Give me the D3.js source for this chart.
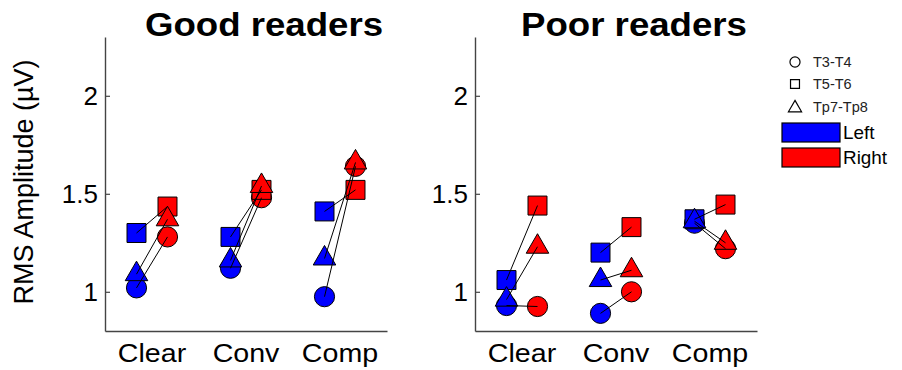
<!DOCTYPE html>
<html>
<head>
<meta charset="utf-8">
<script src="https://cdn.jsdelivr.net/npm/d3@7"></script>
<style>
  html, body { margin: 0; padding: 0; background: #fff; }
  svg { display: block; font-family: "Liberation Sans", Arial, sans-serif; }
</style>
</head>
<body>
<svg id="chart" width="902" height="370"></svg>
<script>
// Conditions along the x axis, electrode pairs, hemispheres
const categories = ["Clear", "Conv", "Comp"];
const electrodes = ["T3-T4", "T5-T6", "Tp7-Tp8"];
const hemispheres = ["Left", "Right"];
const yTicks = [1, 1.5, 2];

// RMS amplitude (µV), one row per electrode, one value per condition
const goodLeft = [
  [1.02, 1.12, 0.975],  // T3-T4
  [1.30, 1.28, 1.41],   // T5-T6
  [1.09, 1.16, 1.17]    // Tp7-Tp8
];
const goodRight = [
  [1.28, 1.48, 1.64],
  [1.435, 1.52, 1.52],
  [1.37, 1.54, 1.66]
];
const poorLeft = [
  [0.93, 0.89, 1.35],
  [1.06, 1.20, 1.37],
  [0.96, 1.06, 1.36]
];
const poorRight = [
  [0.925, 1.00, 1.22],
  [1.44, 1.33, 1.445],
  [1.23, 1.11, 1.25]
];

const panels = [
  { title: "Good readers", left: goodLeft, right: goodRight, x0: 105, showYLabel: true },
  { title: "Poor readers", left: poorLeft, right: poorRight, x0: 475, showYLabel: false }
];

const colors = { Left: "#0000ff", Right: "#ff0000" };
const symbolTypes = { "T3-T4": d3.symbolCircle, "T5-T6": d3.symbolSquare, "Tp7-Tp8": d3.symbolTriangle };
const symbolSizes = { "T3-T4": 320, "T5-T6": 360, "Tp7-Tp8": 220 };
const legendSizes = { "T3-T4": 80, "T5-T6": 80, "Tp7-Tp8": 75 };

const svg = d3.select("#chart");
const panelWidth = 282;
const y = d3.scaleLinear().domain([0.8, 2.3]).range([331, 37]);
const side = d3.scalePoint().domain(hemispheres).range([-15.5, 15.5]);

panels.forEach(p => {
  const x = d3.scaleBand().domain(categories).range([p.x0, p.x0 + panelWidth]).padding(0);
  const cx = c => x(c) + x.bandwidth() / 2;
  const g = svg.append("g");

  // y axis with inward ticks
  const yAxis = g.append("g")
    .attr("transform", `translate(${p.x0},0)`)
    .call(d3.axisLeft(y).tickValues(yTicks).tickSize(-5).tickSizeOuter(0).tickPadding(7)
      .tickFormat(d3.format("")));
  yAxis.selectAll("text").attr("font-size", 26).attr("fill", "#000")
    .attr("font-family", "'Liberation Sans', Arial, sans-serif");

  // x axis
  const xAxis = g.append("g")
    .attr("transform", `translate(0,${y(0.8)})`)
    .call(d3.axisBottom(x).tickSize(0).tickSizeOuter(0).tickPadding(13));
  xAxis.selectAll("text").attr("font-size", 26).attr("fill", "#000")
    .attr("font-family", "'Liberation Sans', Arial, sans-serif")
    .attr("transform", "scale(1.1,1)");

  [yAxis, xAxis].forEach(a => {
    a.select(".domain").attr("stroke", "#444").attr("stroke-width", 1.4);
    a.selectAll(".tick line").attr("stroke", "#444").attr("stroke-width", 1.2);
  });

  // title
  g.append("text")
    .attr("transform", `translate(${p.x0 + panelWidth / 2 + 18},36) scale(1.11,1)`)
    .attr("text-anchor", "middle")
    .attr("font-size", 33).attr("font-weight", "bold").attr("fill", "#000")
    .text(p.title);

  // markers: circles, then squares, then triangles
  electrodes.forEach((e, ei) => {
    hemispheres.forEach(h => {
      const vals = h === "Left" ? p.left[ei] : p.right[ei];
      g.selectAll(null)
        .data(categories.map((c, ci) => ({ c, v: vals[ci] })))
        .join("path")
        .attr("d", d3.symbol().type(symbolTypes[e]).size(symbolSizes[e]))
        .attr("transform", d => `translate(${cx(d.c) + side(h)},${y(d.v)})`)
        .attr("fill", colors[h])
        .attr("stroke", "#000")
        .attr("stroke-width", 1);
    });
  });

  // connecting lines Left -> Right for each electrode pair
  electrodes.forEach((e, ei) => {
    g.selectAll(null)
      .data(categories.map((c, ci) => ({ c, l: p.left[ei][ci], r: p.right[ei][ci] })))
      .join("line")
      .attr("x1", d => cx(d.c) + side("Left"))
      .attr("y1", d => y(d.l))
      .attr("x2", d => cx(d.c) + side("Right"))
      .attr("y2", d => y(d.r))
      .attr("stroke", "#000")
      .attr("stroke-width", 1);
  });

  if (p.showYLabel) {
    svg.append("text")
      .attr("transform", "translate(33,182) rotate(-90)")
      .attr("text-anchor", "middle")
      .attr("font-size", 27).attr("fill", "#000")
      .text("RMS Amplitude (µV)");
  }
});

// legend: electrode symbols (open) and hemisphere colour boxes
const legend = svg.append("g");
const legendY = [62, 84, 107];
electrodes.forEach((e, i) => {
  legend.append("path")
    .attr("d", d3.symbol().type(symbolTypes[e]).size(legendSizes[e]))
    .attr("transform", `translate(795,${legendY[i] + (e === "Tp7-Tp8" ? 1 : 0)})`)
    .attr("fill", "none").attr("stroke", "#000").attr("stroke-width", 1.2);
  legend.append("text")
    .attr("x", 813).attr("y", legendY[i])
    .attr("dominant-baseline", "central")
    .attr("font-size", 14.5).attr("fill", "#222")
    .text(e);
});
const boxY = [123, 148];
hemispheres.forEach((h, i) => {
  legend.append("rect")
    .attr("x", 782).attr("y", boxY[i]).attr("width", 58).attr("height", 19)
    .attr("fill", colors[h]).attr("stroke", "#000").attr("stroke-width", 1.2);
  legend.append("text")
    .attr("transform", `translate(843,${boxY[i] + 10}) scale(1.05,1)`)
    .attr("dominant-baseline", "central")
    .attr("font-size", 18).attr("fill", "#000")
    .text(h);
});
</script>
</body>
</html>
